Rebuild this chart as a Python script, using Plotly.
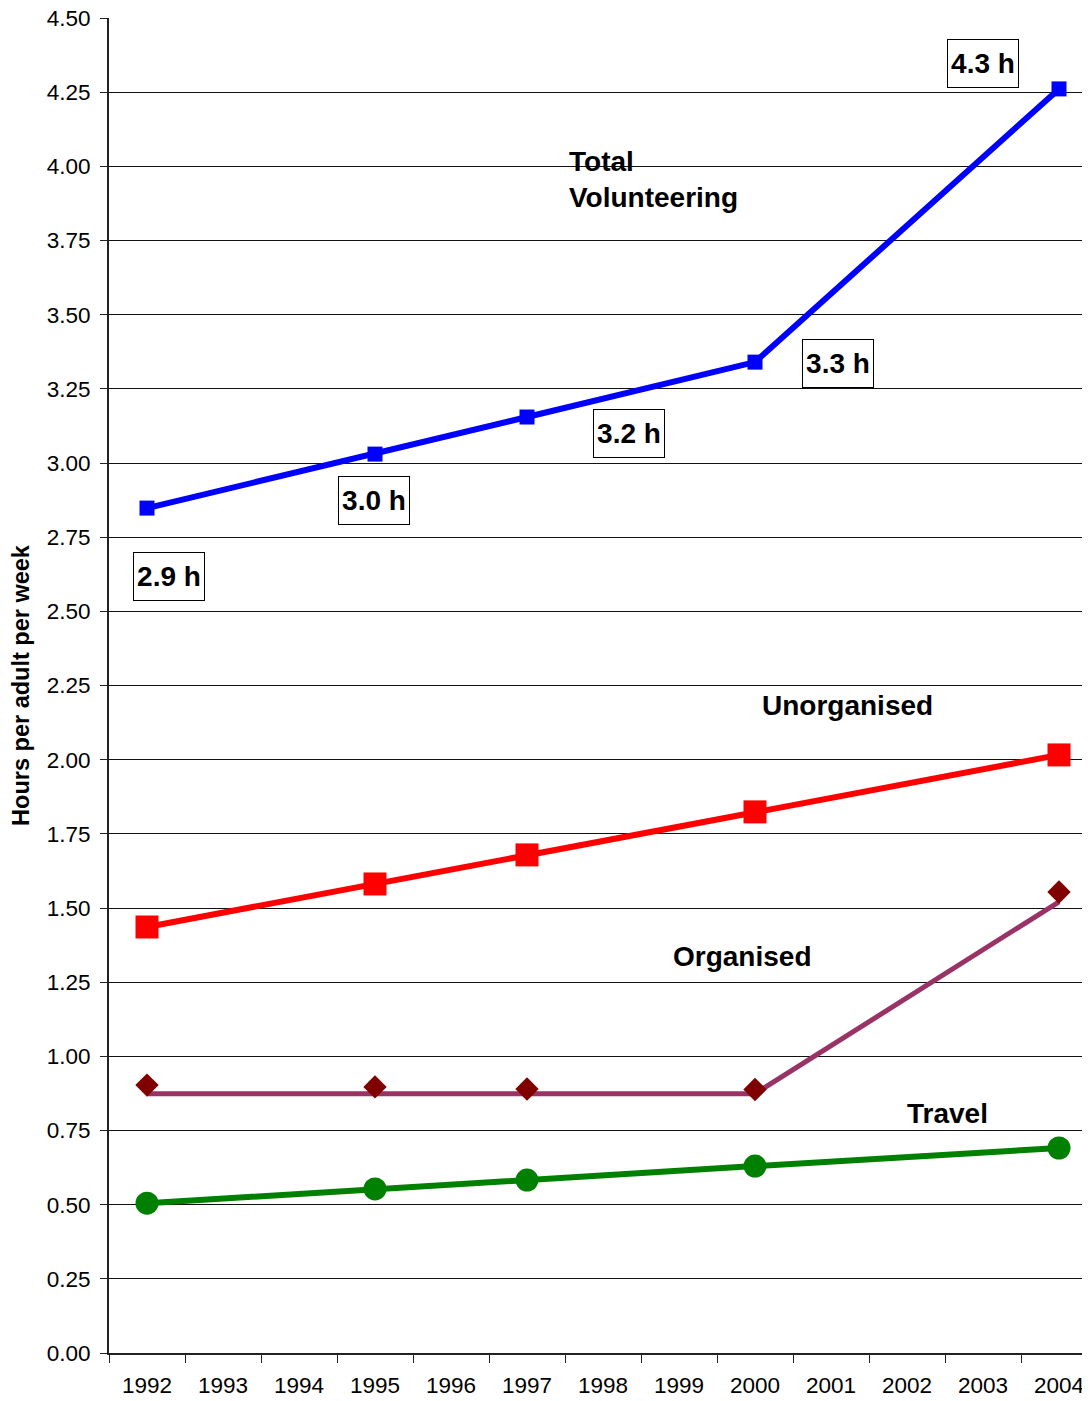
import plotly.graph_objects as go

years_all = list(range(1992, 2005))
survey_years = [1992, 1995, 1997, 2000, 2004]

total_vol = [2.848, 3.030, 3.155, 3.340, 4.261]
unorganised = [1.436, 1.581, 1.679, 1.824, 2.016]
organised_pts = [0.903, 0.897, 0.890, 0.888, 1.554]
organised_line = [0.874, 0.874, 0.874, 0.874, 1.521]
travel = [0.505, 0.553, 0.583, 0.630, 0.691]

value_labels = ["2.9 h", "3.0 h", "3.2 h", "3.3 h", "4.3 h"]
y_ticks = [i * 0.25 for i in range(19)]

FONT = "Liberation Sans, Arial, sans-serif"

fig = go.Figure()

fig.add_trace(go.Scatter(x=survey_years, y=organised_line, mode="lines",
                         line=dict(color="#993366", width=5), hoverinfo="skip"))
fig.add_trace(go.Scatter(x=survey_years, y=organised_pts, mode="markers",
                         marker=dict(symbol="diamond", size=18, color="#800000"),
                         hoverinfo="skip"))
fig.add_trace(go.Scatter(x=survey_years, y=travel, mode="lines+markers",
                         line=dict(color="#008000", width=6),
                         marker=dict(symbol="circle", size=23, color="#008000")))
fig.add_trace(go.Scatter(x=survey_years, y=unorganised, mode="lines+markers",
                         line=dict(color="#FF0000", width=6),
                         marker=dict(symbol="square", size=23, color="#FF0000")))
fig.add_trace(go.Scatter(x=survey_years, y=total_vol, mode="lines+markers",
                         line=dict(color="#0000FF", width=6),
                         marker=dict(symbol="square", size=15, color="#0000FF")))

# boxed value labels (positions are layout offsets near each point)
label_pos = [(1992.29, 2.616), (1994.99, 2.872), (1998.34, 3.101),
             (2001.09, 3.334), (2003.0, 4.348)]
for txt, (lx, ly) in zip(value_labels, label_pos):
    fig.add_annotation(x=lx, y=ly, text=txt, showarrow=False,
                       font=dict(family=FONT, size=28, color="black", weight="bold"),
                       bordercolor="black", borderwidth=1, borderpad=3,
                       width=64, height=41,
                       bgcolor="white", xanchor="center", yanchor="middle")

series_labels = [
    ("Total<br>Volunteering", 1997.53, 3.957, "left"),
    ("Unorganised", 2001.22, 2.181, "center"),
    ("Organised", 1999.83, 1.338, "center"),
    ("Travel", 2002.53, 0.806, "center"),
]
for txt, lx, ly, anc in series_labels:
    fig.add_annotation(x=lx, y=ly, text=txt, showarrow=False, align="left",
                       font=dict(family=FONT, size=28, color="black", weight="bold"),
                       xanchor=anc, yanchor="middle")

px_per_year = 76.0
plot_w = 1090 - 109
x_right = 1991.5 + plot_w / px_per_year

fig.update_layout(
    width=1082, height=1393,
    margin=dict(l=101, r=0, t=10, b=48, autoexpand=False),
    paper_bgcolor="white", plot_bgcolor="white",
    showlegend=False,
    font=dict(family=FONT, color="black"),
    xaxis=dict(
        range=[1991.5, x_right],
        tickmode="array", tickvals=years_all, ticktext=[str(y) for y in years_all],
        ticks="", showgrid=False, zeroline=False,
        showline=True, linecolor="#222", linewidth=2,
        tickfont=dict(family=FONT, size=22.5, color="black"),
        ticklabeloverflow="allow", ticklabelstandoff=11, automargin=False,
        minor=dict(tickmode="array", tickvals=[y - 0.5 for y in years_all] + [2004.5],
                   ticks="outside", ticklen=8, tickcolor="#222", tickwidth=1,
                   showgrid=False),
        fixedrange=True,
    ),
    yaxis=dict(
        range=[0, 4.5],
        tickmode="array", tickvals=y_ticks, ticktext=[f"{v:.2f}" for v in y_ticks],
        ticks="outside", ticklen=7, tickcolor="#222", tickwidth=1,
        showgrid=True, gridcolor="#111", gridwidth=1,
        zeroline=False, showline=True, linecolor="#222", linewidth=2,
        tickfont=dict(family=FONT, size=22.5, color="black"),
        ticklabeloverflow="allow", ticklabelstandoff=5, automargin=False,
        title=dict(text="Hours per adult per week",
                   font=dict(family=FONT, size=23.5, color="black", weight="bold"),
                   standoff=13),
        fixedrange=True,
    ),
)

fig.write_html("out.html")
